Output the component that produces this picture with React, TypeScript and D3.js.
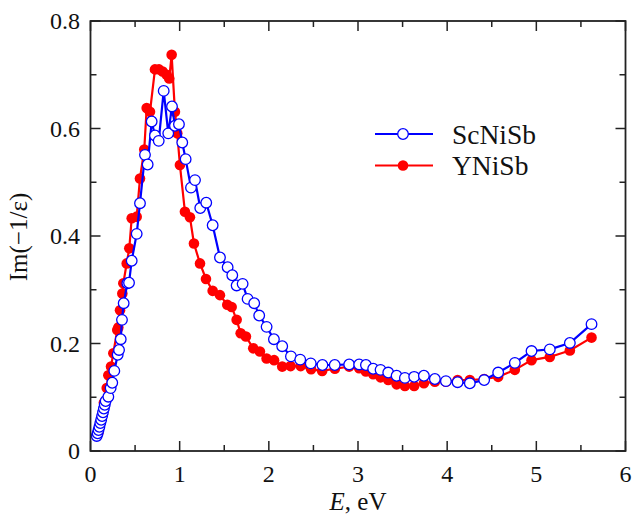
import React from "react";
import * as d3 from "d3";

const scE = [0.07,0.08,0.09,0.10,0.11,0.12,0.13,0.14,0.15,0.16,0.17,0.20,0.226,0.244,0.267,0.305,0.32,0.339,0.353,0.372,0.413,0.432,0.462,0.518,0.555,0.611,0.641,0.686,0.723,0.765,0.821,0.872,0.914,0.947,0.992,1.029,1.067,1.127,1.172,1.231,1.298,1.37,1.452,1.538,1.59,1.639,1.706,1.762,1.836,1.892,1.975,2.057,2.15,2.248,2.352,2.47,2.601,2.739,2.901,3.013,3.089,3.17,3.253,3.339,3.433,3.526,3.63,3.739,3.862,3.986,4.117,4.254,4.415,4.572,4.759,4.946,5.151,5.376,5.619];
const scV = [0.028,0.033,0.039,0.045,0.052,0.058,0.065,0.072,0.079,0.086,0.093,0.101,0.117,0.127,0.149,0.179,0.188,0.208,0.244,0.275,0.312,0.313,0.354,0.404,0.461,0.551,0.533,0.613,0.587,0.577,0.67,0.591,0.641,0.605,0.608,0.574,0.543,0.49,0.504,0.452,0.462,0.42,0.36,0.342,0.327,0.308,0.311,0.283,0.275,0.252,0.231,0.208,0.195,0.176,0.17,0.163,0.16,0.16,0.161,0.161,0.16,0.153,0.151,0.146,0.14,0.136,0.138,0.14,0.134,0.13,0.128,0.126,0.132,0.146,0.164,0.186,0.189,0.201,0.236];

const yE = [0.09,0.12,0.15,0.182,0.2,0.23,0.256,0.3,0.312,0.331,0.357,0.368,0.406,0.435,0.462,0.518,0.555,0.603,0.63,0.667,0.723,0.768,0.809,0.854,0.883,0.91,0.947,0.973,1.003,1.059,1.115,1.16,1.228,1.295,1.37,1.452,1.534,1.583,1.639,1.684,1.743,1.825,1.9,1.975,2.059,2.15,2.244,2.357,2.474,2.598,2.741,2.901,3.013,3.089,3.17,3.253,3.339,3.433,3.526,3.63,3.739,3.862,3.986,4.117,4.254,4.415,4.572,4.759,4.946,5.151,5.376,5.619];
const yV = [0.035,0.06,0.09,0.117,0.141,0.157,0.182,0.225,0.23,0.262,0.293,0.312,0.349,0.377,0.433,0.436,0.507,0.561,0.638,0.631,0.71,0.71,0.706,0.7,0.693,0.737,0.631,0.591,0.532,0.445,0.435,0.386,0.349,0.32,0.298,0.29,0.272,0.268,0.244,0.219,0.213,0.191,0.185,0.172,0.169,0.157,0.158,0.158,0.152,0.149,0.153,0.157,0.154,0.148,0.143,0.137,0.132,0.124,0.121,0.121,0.126,0.129,0.129,0.132,0.132,0.134,0.138,0.151,0.169,0.175,0.187,0.211];

const xTicks = [0, 1, 2, 3, 4, 5, 6];
const yTicks = [0, 0.2, 0.4, 0.6, 0.8];
const seriesNames = ["ScNiSb", "YNiSb"];

const W = 635, H = 516;
const L = 90.5, R = 625.5, T = 21, B = 451;
const FONT = "Liberation Serif, Times New Roman, Times, serif";
const AX = "#222";

export default function App() {
  const x = d3.scaleLinear().domain([0, 6]).range([L, R]);
  const y = d3.scaleLinear().domain([0, 0.8]).range([B, T]);
  const line = d3.line<[number, number]>().x(d => x(d[0])).y(d => y(d[1]));
  const sc: [number, number][] = scE.map((e, i) => [e, scV[i]]);
  const yn: [number, number][] = yE.map((e, i) => [e, yV[i]]);
  const xMinor = d3.range(0, 6.01, 0.5);
  const yMinor = d3.range(0, 0.801, 0.1);
  const BLUE = "#0000ff", RED = "#ff0000";
  const r = 5.3;
  const ts = { fontFamily: FONT } as React.CSSProperties;
  return (
    <svg width={W} height={H} style={{ position: "absolute", left: 0, top: 0, background: "#fff", fontFamily: FONT }}>
      <path d={line(yn) || ""} fill="none" stroke={RED} strokeWidth={2.2} />
      {yn.map((d, i) => (
        <circle key={"r" + i} cx={x(d[0])} cy={y(d[1])} r={r} fill={RED} />
      ))}
      <path d={line(sc) || ""} fill="none" stroke={BLUE} strokeWidth={2.2} />
      {sc.map((d, i) => (
        <circle key={"b" + i} cx={x(d[0])} cy={y(d[1])} r={r} fill="#fff" stroke={BLUE} strokeWidth={1.3} />
      ))}
      <rect x={L} y={T} width={R - L} height={B - T} fill="none" stroke={AX} strokeWidth={1.8} />
      {xMinor.map((t, i) => {
        const len = Math.abs(t - Math.round(t)) < 1e-6 ? 10 : 6;
        return (
          <g key={"xt" + i}>
            <line x1={x(t)} x2={x(t)} y1={B} y2={B - len} stroke={AX} strokeWidth={1.5} />
            <line x1={x(t)} x2={x(t)} y1={T} y2={T + len} stroke={AX} strokeWidth={1.5} />
          </g>
        );
      })}
      {yMinor.map((t, i) => {
        const major = Math.abs(t * 5 - Math.round(t * 5)) < 1e-6;
        const len = major ? 10 : 6;
        return (
          <g key={"yt" + i}>
            <line x1={L} x2={L + len} y1={y(t)} y2={y(t)} stroke={AX} strokeWidth={1.5} />
            <line x1={R} x2={R - len} y1={y(t)} y2={y(t)} stroke={AX} strokeWidth={1.5} />
          </g>
        );
      })}
      {xTicks.map(t => (
        <text key={"xl" + t} style={ts} x={x(t)} y={482} textAnchor="middle" fontSize={24} fill="#111">{t}</text>
      ))}
      {yTicks.map(t => (
        <text key={"yl" + t} style={ts} x={80} y={y(t)} dy="0.35em" textAnchor="end" fontSize={24} fill="#111">{t === 0 ? "0" : t.toFixed(1)}</text>
      ))}
      <text style={ts} x={358} y={510} textAnchor="middle" fontSize={25} fill="#111">
        <tspan fontStyle="italic">E</tspan>, eV
      </text>
      <text style={ts} transform={`translate(27,237) rotate(-90)`} textAnchor="middle" fontSize={25} fill="#111">Im(−1/ε)</text>
      <line x1={375} x2={433} y1={134} y2={134} stroke={BLUE} strokeWidth={2.2} />
      <circle cx={403} cy={134} r={r} fill="#fff" stroke={BLUE} strokeWidth={1.3} />
      <text style={ts} x={452} y={134} dy="0.35em" fontSize={27.5} fill="#111">{seriesNames[0]}</text>
      <line x1={375} x2={433} y1={165.5} y2={165.5} stroke={RED} strokeWidth={2.2} />
      <circle cx={403} cy={165.5} r={r} fill={RED} />
      <text style={ts} x={452} y={165.5} dy="0.35em" fontSize={27.5} fill="#111">{seriesNames[1]}</text>
    </svg>
  );
}
